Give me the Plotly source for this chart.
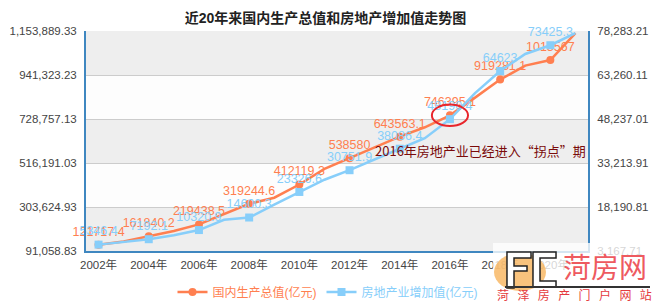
import plotly.graph_objects as go

# ---------------- data ----------------
years = [str(y) for y in range(2002, 2022)]
year_labels = [y + "年" for y in years]
gdp = [121717.4, 137422.0, 161840.2, 187318.9, 219438.5, 270092.3, 319244.6, 348517.7,
       412119.3, 487940.2, 538580.0, 592963.2, 643563.1, 688858.2, 746395.1, 832035.9,
       919281.1, 986515.2, 1013567.0, 1143669.7]
realty = [5346.4, 6172.7, 7192.1, 8516.4, 10320.9, 13809.7, 14600.3, 18966.9,
          23326.6, 27500.0, 30751.9, 34500.0, 38086.4, 41701.0, 48190.4, 57086.0,
          64623.0, 70444.0, 73425.3, 77561.0]
gdp_labels = ["121717.4", "", "161840.2", "", "219438.5", "", "319244.6", "", "412119.3", "",
              "538580", "", "643563.1", "", "746395.1", "", "919281.1", "", "1013567", ""]
realty_labels = ["5346.4", "", "7192.1", "", "10320.9", "", "14600.3", "", "23326.6", "",
                 "30751.9", "", "38086.4", "", "48190.4", "", "64623", "", "73425.3", ""]
left_ticks = [91058.83, 303624.93, 516191.03, 728757.13, 941323.23, 1153889.33]
right_ticks = [3167.71, 18190.81, 33213.91, 48237.01, 63260.11, 78283.21]

title = "近20年来国内生产总值和房地产增加值走势图"
name_gdp = "国内生产总值(亿元)"
name_realty = "房地产业增加值(亿元)"
note = "2016年房地产业已经进入“拐点”期"
note_year = "2016"

# ---------------- styles ----------------
W, H = 658, 304
ML, MR, MT, MB = 86, 70, 31, 53
C_GDP = "#FF7F50"
C_RE = "#87CEFA"
AXIS_BLUE = "#3F87C0"
FONT = "Liberation Sans, Noto Sans CJK SC, sans-serif"

def px(x):
    return (x - ML) / (W - ML - MR)

def py(y):
    return (H - MB - y) / (H - MT - MB)

xs = list(range(len(years)))
shown = [lab != "" for lab in gdp_labels]

fig = go.Figure()
fig.add_trace(go.Scatter(
    x=xs, y=realty, mode="lines+markers+text", yaxis="y2", legendrank=2,
    name=f'<span style="color:{C_RE}">{name_realty}</span>',
    line=dict(color=C_RE, width=2.5),
    marker=dict(symbol="square", size=8,
                color=[C_RE if s else "rgba(0,0,0,0)" for s in shown], line=dict(width=0)),
    text=realty_labels, textposition="top center",
    textfont=dict(color=C_RE, size=12.5, family=FONT),
    cliponaxis=False, hoverinfo="skip"))
fig.add_trace(go.Scatter(
    x=xs, y=gdp, mode="lines+markers+text", yaxis="y", legendrank=1,
    name=f'<span style="color:{C_GDP}">{name_gdp}</span>',
    line=dict(color=C_GDP, width=2.5),
    marker=dict(symbol="circle", size=8,
                color=[C_GDP if s else "rgba(0,0,0,0)" for s in shown], line=dict(width=0)),
    text=gdp_labels, textposition="top center",
    textfont=dict(color=C_GDP, size=12.5, family=FONT),
    cliponaxis=False, hoverinfo="skip"))

shapes = []
# alternating bands
for i in range(0, len(left_ticks) - 1):
    if (len(left_ticks) - 2 - i) % 2 == 0:
        shapes.append(dict(type="rect", xref="paper", yref="y", x0=0, x1=1,
                           y0=left_ticks[i], y1=left_ticks[i + 1],
                           fillcolor="#EEEEEE", line=dict(width=0), layer="below"))
# highlight ellipse around 2016
i16 = years.index(note_year)
shapes.append(dict(type="circle", xref="x", yref="y", x0=i16 - 0.72, x1=i16 + 0.72,
                   y0=gdp[i16] - 52000, y1=gdp[i16] + 52000,
                   line=dict(color="#E8262C", width=2), layer="above"))
# watermark background
shapes.append(dict(type="rect", xref="paper", yref="paper", x0=px(493), x1=px(658),
                   y0=py(304), y1=py(243), fillcolor="rgba(255,255,255,0.78)",
                   line=dict(width=0), layer="above"))
shapes.append(dict(type="circle", xref="paper", yref="paper", x0=px(494), x1=px(546),
                   y0=py(291), y1=py(253), fillcolor="rgba(246,170,70,0.7)",
                   line=dict(width=0), layer="above"))

def path(pts):
    return "M " + " L ".join(f"{px(a):.4f},{py(b):.4f}" for a, b in pts) + " Z"

F_pts = [(507, 252), (531, 252), (531, 258), (514, 258), (514, 266), (527, 266),
         (527, 271), (514, 271), (514, 288), (507, 288)]
C_pts = [(533, 252), (556, 252), (556, 258), (540, 258), (540, 281), (556, 281),
         (556, 287), (533, 287)]
for pts in (F_pts, C_pts):
    shapes.append(dict(type="path", xref="paper", yref="paper", path=path(pts),
                       fillcolor="white", line=dict(color="#222", width=1.5), layer="above"))
shapes.append(dict(type="line", xref="paper", yref="paper", x0=px(505), x1=px(650),
                   y0=py(287), y1=py(287), line=dict(color="#333", width=2), layer="above"))

annotations = [
    dict(text=note, xref="paper", yref="paper", x=1.0, y=py(150), xanchor="right",
         yanchor="middle", showarrow=False,
         font=dict(size=13, color="#7A0A0A", family="Noto Sans CJK SC, sans-serif")),
    dict(text="菏房网", xref="paper", yref="paper", x=px(605), y=py(266), xanchor="center",
         yanchor="middle", showarrow=False,
         font=dict(size=28, color="#EE5A5F", family="Noto Sans CJK SC, sans-serif")),
    dict(text="菏\u2002\u2009泽\u2002\u2009房\u2002\u2009产\u2002\u2009门\u2002\u2009户\u2002\u2009网\u2002\u2009站",
         xref="paper", yref="paper",
         x=px(574), y=py(294), xanchor="center", yanchor="middle", showarrow=False,
         font=dict(size=12, color="#E53A40", family="Noto Sans CJK SC, sans-serif")),
]

tick_font = dict(size=11.5, color="#444", family=FONT)
fig.update_layout(
    width=W, height=H, margin=dict(l=ML, r=MR, t=MT, b=MB, autoexpand=False),
    paper_bgcolor="white", plot_bgcolor="#FDFDFD",
    title=dict(text=f"<b>{title}</b>", x=325.5 / W, xref="container", xanchor="center",
               y=1 - 18 / H, yref="container", yanchor="middle",
               font=dict(size=14, color="#222", family=FONT)),
    xaxis=dict(range=[-0.5, len(years) - 0.5], tickvals=xs[0:-1:2], ticktext=year_labels[0:-1:2],
               showgrid=False, zeroline=False, showline=True, linecolor=AXIS_BLUE, linewidth=2,
               ticks="outside", ticklen=2, tickcolor="rgba(0,0,0,0)", tickfont=tick_font,
               fixedrange=True),
    xaxis2=dict(range=[-0.5, len(years) - 0.5], overlaying="x", side="bottom", anchor="y",
                tickvals=[v + 0.5 for v in xs[0:-1:2]], showticklabels=False,
                showgrid=True, gridcolor="#CCCCCC", gridwidth=1, zeroline=False,
                ticks="outside", ticklen=5, tickcolor="#888", showline=False),
    yaxis=dict(range=[left_ticks[0], left_ticks[-1]], tickvals=left_ticks,
               ticktext=[f"{v:,.2f}" for v in left_ticks], showgrid=True, gridcolor="#CCCCCC",
               zeroline=False, showline=True, linecolor=AXIS_BLUE, linewidth=2,
               ticks="outside", ticklen=5, tickcolor="rgba(0,0,0,0)", tickfont=tick_font),
    yaxis2=dict(range=[right_ticks[0], right_ticks[-1]], tickvals=right_ticks,
                ticktext=[f"{v:,.2f}" for v in right_ticks], overlaying="y", side="right",
                showgrid=False, zeroline=False, showline=True, linecolor=AXIS_BLUE, linewidth=2,
                ticks="outside", ticklen=5, tickcolor="rgba(0,0,0,0)", tickfont=tick_font),
    legend=dict(orientation="h", xref="paper", yref="paper",
                x=px(327.5), xanchor="center", y=py(292), yanchor="middle",
                font=dict(size=12, family=FONT), itemwidth=30, bgcolor="rgba(0,0,0,0)"),
    shapes=shapes, annotations=annotations, showlegend=True,
)

fig.write_html("out.html")
